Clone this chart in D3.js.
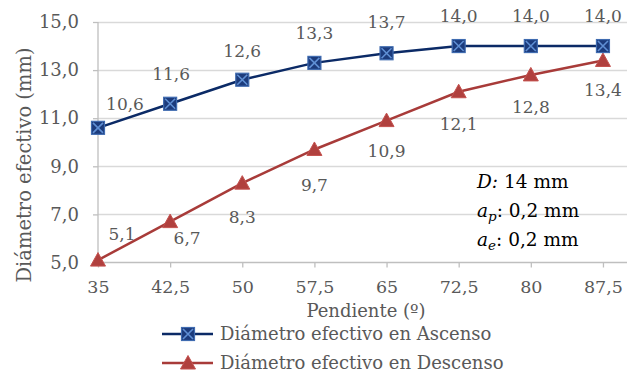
<!DOCTYPE html>
<html><head><meta charset="utf-8">
<script src="https://cdn.jsdelivr.net/npm/d3@7"></script>
<style>html,body{margin:0;padding:0;background:#fff;}svg{display:block;}</style>
</head><body>
<svg id="c" width="640" height="378"></svg>
<script>
const categories = [35, 42.5, 50, 57.5, 65, 72.5, 80, 87.5];
const ascenso = [10.6, 11.6, 12.6, 13.3, 13.7, 14.0, 14.0, 14.0];
const descenso = [5.1, 6.7, 8.3, 9.7, 10.9, 12.1, 12.8, 13.4];
const yTicks = [5, 7, 9, 11, 13, 15];
const seriesNames = ["Diámetro efectivo en Ascenso", "Diámetro efectivo en Descenso"];
const xTitle = "Pendiente (º)";
const yTitle = "Diámetro efectivo (mm)";

// label placement (layout only)
const ascLabelOff = [[27,-18],[1,-24],[0,-23],[0,-24],[0,-25],[0,-24],[0,-24],[0,-24]];
const descLabelOff = [[24,-20],[17,22],[0,40],[0,42],[0,36],[0,38],[0,38],[0,36]];

const FONT = "DejaVu Serif";
const TXT = "#595959";
const svg = d3.select("#c");
const x = d3.scaleLinear().domain([35, 90]).range([98, 627]);
const y = d3.scaleLinear().domain([5, 15]).range([262.5, 22]);
const fmt = v => String(v).replace(".", ",");
const fmt1 = v => v.toFixed(1).replace(".", ",");

// gridlines
svg.append("g").selectAll("line").data(yTicks.slice(1)).join("line")
  .attr("x1", x(35)).attr("x2", x(90))
  .attr("y1", d => Math.round(y(d)) + 0.5).attr("y2", d => Math.round(y(d)) + 0.5)
  .attr("stroke", "#d9d9d9").attr("stroke-width", 1.3);

// y axis
const yAxis = svg.append("g").attr("transform", `translate(${x(35)},0)`)
  .call(d3.axisLeft(y).tickValues(yTicks).tickFormat(fmt1).tickSize(5).tickPadding(14));
// x axis
const xAxis = svg.append("g").attr("transform", `translate(0,${y(5)})`)
  .call(d3.axisBottom(x).tickValues(categories).tickFormat(fmt).tickSize(5).tickPadding(13));
[yAxis, xAxis].forEach(a => {
  a.select(".domain").attr("stroke", "#bfbfbf").attr("stroke-width", 1.3);
  a.selectAll(".tick line").attr("stroke", "#bfbfbf").attr("stroke-width", 1.3);
  a.selectAll("text").attr("fill", TXT).attr("font-family", FONT).attr("font-size", 17.5);
});
yAxis.selectAll("text").attr("font-size", 18);
xAxis.select(".domain").attr("d", `M${x(35)},0H${x(90)}`);
yAxis.select(".domain").attr("d", `M0,${y(15)}V${y(5)}`);

// titles
svg.append("text").attr("x", 366).attr("y", 317).attr("text-anchor", "middle")
  .attr("font-family", FONT).attr("font-size", 18).attr("fill", TXT).text(xTitle);
svg.append("text").attr("transform", "translate(31,165) rotate(-90)").attr("text-anchor", "middle")
  .attr("font-family", FONT).attr("font-size", 19.5).attr("fill", TXT).text(yTitle);

const line = d3.line().x((d, i) => x(categories[i])).y(d => y(d));
const blue = "#0b2a66", red = "#a83b39";

function square(g, cx, cy) {
  const s = 6.5;
  g.append("rect").attr("x", cx - s).attr("y", cy - s).attr("width", 2*s).attr("height", 2*s)
    .attr("fill", "#1c3b7c").attr("stroke", "#3f6bb0").attr("stroke-width", 1.2);
  g.append("path").attr("d", `M${cx-s+1.5},${cy-s+1.5}L${cx+s-1.5},${cy+s-1.5}M${cx+s-1.5},${cy-s+1.5}L${cx-s+1.5},${cy+s-1.5}`)
    .attr("stroke", "#5f8fd4").attr("stroke-width", 1.6);
}
function tri(g, cx, cy) {
  const s = 7.5;
  g.append("path").attr("d", `M${cx},${cy-s}L${cx+s},${cy+s*0.8}L${cx-s},${cy+s*0.8}Z`)
    .attr("fill", "#b0403e").attr("stroke", "#c4514e").attr("stroke-width", 1);
}

// series
svg.append("path").datum(descenso).attr("d", line).attr("fill", "none").attr("stroke", red).attr("stroke-width", 2.5);
svg.append("path").datum(ascenso).attr("d", line).attr("fill", "none").attr("stroke", blue).attr("stroke-width", 2.5);
const mk = svg.append("g");
descenso.forEach((v, i) => tri(mk, x(categories[i]), y(v)));
ascenso.forEach((v, i) => square(mk, x(categories[i]), y(v)));

// data labels
const lab = svg.append("g").attr("font-family", FONT).attr("font-size", 17).attr("fill", TXT).attr("text-anchor", "middle");
ascenso.forEach((v, i) => lab.append("text").attr("x", x(categories[i]) + ascLabelOff[i][0]).attr("y", y(v) + ascLabelOff[i][1]).text(fmt1(v)));
descenso.forEach((v, i) => lab.append("text").attr("x", x(categories[i]) + descLabelOff[i][0]).attr("y", y(v) + descLabelOff[i][1]).text(fmt1(v)));

// annotation
const ann = svg.append("g").attr("font-family", FONT).attr("font-size", 18.5).attr("fill", "#000");
const t1 = ann.append("text").attr("x", 477).attr("y", 188);
t1.append("tspan").attr("font-style", "italic").text("D:");
t1.append("tspan").text(" 14 mm");
const t2 = ann.append("text").attr("x", 477).attr("y", 217);
t2.append("tspan").attr("font-style", "italic").text("a");
t2.append("tspan").attr("font-style", "italic").attr("font-size", 13.5).attr("dy", 4).text("p");
t2.append("tspan").attr("dy", -4).text(": 0,2 mm");
const t3 = ann.append("text").attr("x", 477).attr("y", 246);
t3.append("tspan").attr("font-style", "italic").text("a");
t3.append("tspan").attr("font-style", "italic").attr("font-size", 13.5).attr("dy", 4).text("e");
t3.append("tspan").attr("dy", -4).text(": 0,2 mm");

// legend
const leg = svg.append("g");
[[334, blue, square], [363, red, tri]].forEach(([ly, c, f], i) => {
  leg.append("line").attr("x1", 162).attr("x2", 213).attr("y1", ly).attr("y2", ly).attr("stroke", c).attr("stroke-width", 2.5);
  f(leg, 188, ly);
  leg.append("text").attr("x", 220).attr("y", ly + 6).attr("font-family", FONT).attr("font-size", 18).attr("fill", TXT).text(seriesNames[i]);
});
</script>
</body></html>
